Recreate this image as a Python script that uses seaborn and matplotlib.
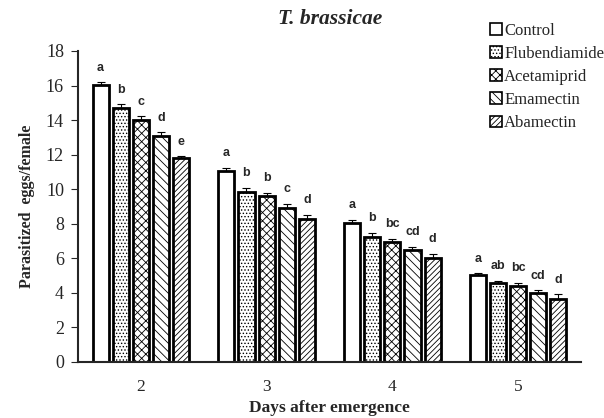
import numpy as np
import pandas as pd
import matplotlib
matplotlib.use("Agg")
import matplotlib.pyplot as plt
from matplotlib.patches import Patch
import seaborn as sns

# DATOS

DAYS = ["2", "3", "4", "5"]
TREATMENTS = ["Control", "Flubendiamide", "Acetamiprid", "Emamectin", "Abamectin"]

control       = [16.05, 11.04, 8.05, 5.03]
flubendiamide = [14.72, 9.83, 7.24, 4.55]
acetamiprid   = [14.03, 9.60, 6.92, 4.39]
emamectin     = [13.10, 8.94, 6.47, 3.97]
abamectin     = [11.81, 8.27, 6.01, 3.62]

err_control       = [0.14, 0.20, 0.18, 0.12]
err_flubendiamide = [0.20, 0.25, 0.25, 0.15]
err_acetamiprid   = [0.18, 0.20, 0.22, 0.20]
err_emamectin     = [0.20, 0.22, 0.20, 0.20]
err_abamectin     = [0.12, 0.25, 0.25, 0.30]

letters_control       = ["a", "a", "a", "a"]
letters_flubendiamide = ["b", "b", "b", "ab"]
letters_acetamiprid   = ["c", "b", "bc", "bc"]
letters_emamectin     = ["d", "c", "cd", "cd"]
letters_abamectin     = ["e", "d", "d", "d"]

values  = [control, flubendiamide, acetamiprid, emamectin, abamectin]
errors  = [err_control, err_flubendiamide, err_acetamiprid, err_emamectin, err_abamectin]
letters = [letters_control, letters_flubendiamide, letters_acetamiprid,
           letters_emamectin, letters_abamectin]
HATCHES = ["", ".....", "xxxx", "\\\\\\\\", "//////"]

rows = []
for t, vals in zip(TREATMENTS, values):
    for d, v in zip(DAYS, vals):
        rows.append({"day": d, "treatment": t, "eggs": v})
df = pd.DataFrame(rows)

# FIGURA

sns.set_style("ticks")
plt.rcParams["font.family"] = ["Liberation Serif", "DejaVu Serif"]
plt.rcParams["hatch.linewidth"] = 0.6

fig = plt.figure(figsize=(6.04, 4.18), dpi=100)
ax = fig.add_axes([0.129, 0.134, 0.833, 0.744])

sns.barplot(data=df, x="day", y="eggs", hue="treatment", order=DAYS,
            hue_order=TREATMENTS, palette=["white"] * 5, edgecolor="black",
            linewidth=2, width=0.8, errorbar=None, legend=False, ax=ax)

for cont, hatch, errs, labs in zip(ax.containers, HATCHES, errors, letters):
    for bar, e, lab in zip(cont, errs, labs):
        bar.set_hatch(hatch)
        # dejar un hueco entre barras
        w = bar.get_width()
        x = bar.get_x() + w / 2
        bar.set_width(w * 0.8)
        bar.set_x(x - w * 0.4)
        h = bar.get_height()
        ax.errorbar(x, h, yerr=[[0], [e]], fmt="none", ecolor="black",
                    elinewidth=0.8, capsize=3, capthick=0.8)
        ax.annotate(lab, (x, h + e), xytext=(0, 6), textcoords="offset points",
                    ha="center", va="bottom", fontsize=9, fontweight="bold",
                    family="Liberation Sans")

ax.set_ylim(0, 18)
ax.set_yticks(range(0, 19, 2))
ax.set_xlim(-0.5, 3.5)
ax.tick_params(axis="x", length=0, labelsize=12.5, pad=12)
ax.tick_params(axis="y", labelsize=13, direction="out", length=5, pad=5)
ax.spines[["top", "right"]].set_visible(False)
ax.spines[["left", "bottom"]].set_linewidth(1.5)

ax.set_xlabel("Days after emergence", fontsize=12.5, fontweight="bold", labelpad=4)
ax.set_ylabel("Parasitized  eggs/female", fontsize=11.5, fontweight="bold", labelpad=8)
fig.text(0.46, 0.955, "T. brassicae", fontsize=15.5, fontweight="bold",
         style="italic", ha="left", va="center")

handles = [Patch(facecolor="white", edgecolor="black", hatch=h, linewidth=1.2)
           for h in HATCHES]
fig.legend(handles, TREATMENTS, loc="upper left", bbox_to_anchor=(0.8, 0.962),
           frameon=False, fontsize=12, handlelength=0.7, handleheight=0.7,
           handletextpad=0.15, labelspacing=0.43, borderaxespad=0)

fig.savefig("out.png", dpi=100)
